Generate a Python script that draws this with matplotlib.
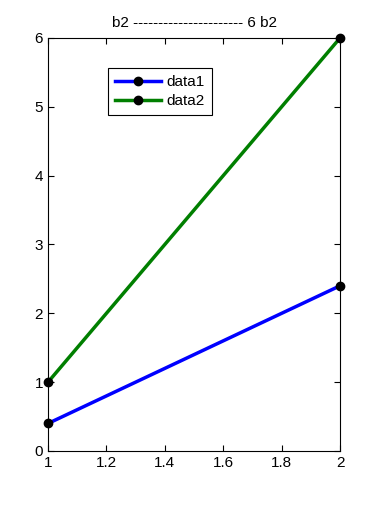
import matplotlib
matplotlib.use("Agg")
import matplotlib.pyplot as plt

# data
x = [1, 2]
data1 = [0.4, 2.4]
data2 = [1, 6]
xticks = [1, 1.2, 1.4, 1.6, 1.8, 2]
yticks = [0, 1, 2, 3, 4, 5, 6]

plt.rcParams['font.family'] = ['Liberation Sans', 'DejaVu Sans']
plt.rcParams['font.size'] = 10

fig = plt.figure(figsize=(3.74, 5.07), dpi=100)
ax = fig.add_axes([48 / 374, 56 / 507, 292 / 374, 413 / 507])

ax.plot(x, data1, color='#0000ff', lw=2.5, marker='o', ms=6,
        mfc='black', mec='black', label='data1', clip_on=False, zorder=3)
ax.plot(x, data2, color='#007f00', lw=2.5, marker='o', ms=6,
        mfc='black', mec='black', label='data2', clip_on=False, zorder=3)

ax.set_xlim(1, 2)
ax.set_ylim(0, 6)
ax.set_xticks(xticks)
ax.set_xticklabels(['1', '1.2', '1.4', '1.6', '1.8', '2'])
ax.set_yticks(yticks)
ax.tick_params(direction='in', top=True, right=True, length=4, labelsize=11)
for s in ax.spines.values():
    s.set_linewidth(0.8)

ax.set_title('b2 ' + '-' * 22 + ' 6 b2', fontsize=11, pad=8)

leg = ax.legend(loc='upper left', bbox_to_anchor=(60 / 292, 1 - 30 / 413),
                borderaxespad=0, fancybox=False, framealpha=1,
                edgecolor='black', handlelength=3.0, borderpad=0.45,
                labelspacing=0.35, handletextpad=0.4, fontsize=11)
leg.get_frame().set_linewidth(0.8)

fig.savefig("out.png", dpi=100)
